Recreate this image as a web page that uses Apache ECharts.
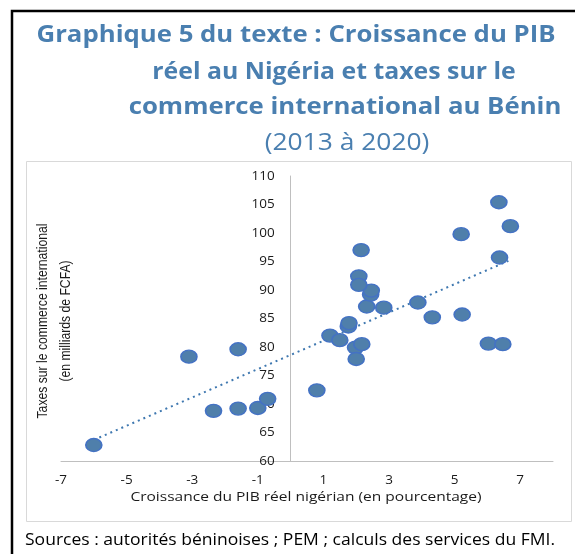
<!DOCTYPE html>
<html>
<head>
<meta charset="utf-8">
<script src="https://cdn.jsdelivr.net/npm/echarts@6/dist/echarts.min.js"></script>
<style>
  html, body { margin: 0; padding: 0; background: #fff; }
  #chart { width: 575px; height: 554px; }
</style>
</head>
<body>
<div id="chart"></div>
<script>
// Croissance du PIB réel nigérian (%) vs taxes sur le commerce international du Bénin (mds FCFA)
const gdpGrowth = [-6.0, -3.1, -1.6, -2.35, -1.6, -1.0, -0.7, 0.8, 1.2, 1.5, 1.76, 1.78, 1.98, 2.0, 2.17, 2.32,
                   2.44, 2.46, 2.84, 3.88, 4.32, 5.23, 5.2, 6.03, 6.47, 6.37, 6.7, 6.35, 2.15, 2.08, 2.08];
const tradeTaxes = [62.8, 78.3, 79.6, 68.8, 69.2, 69.3, 70.9, 72.4, 82.0, 81.2, 83.6, 84.2, 79.9, 77.9, 80.5, 87.1,
                    89.2, 89.9, 86.9, 87.8, 85.2, 85.7, 99.8, 80.6, 80.5, 95.7, 101.2, 105.4, 97.0, 92.4, 90.9];
// Linear trend line end points
const trendX = [-6.0, 6.64];
const trendY = [63.7, 95.1];

const titleLines = [
  'Graphique 5 du texte : Croissance du PIB',
  'réel au Nigéria et taxes sur le',
  'commerce international au Bénin'
];
const subtitle = '(2013 à 2020)';
const yTitleLines = ['Taxes sur le commerce international', '(en milliards de FCFA)'];
const xTitle = 'Croissance du PIB réel nigérian (en pourcentage)';
const sourceNote = 'Sources : autorités béninoises ; PEM ; calculs des services du FMI.';

const points = gdpGrowth.map((x, i) => [x, tradeTaxes[i]]);
const trend = trendX.map((x, i) => [x, trendY[i]]);

const blue = '#4a7fb0';
const labelFont = '"Open Sans", sans-serif';
const titleFont = 'bold 23px "Open Sans", sans-serif';
const yTitleFont = '14.5px "Liberation Sans", Arial, sans-serif';

// grid geometry: x from -7 to 8, the vertical axis sits at x = 0
const gridLeft = 61, gridRight = 22;
const xMin = -7, xMax = 8;
const plotWidth = 575 - gridLeft - gridRight;
const yAxisShift = plotWidth * (0 - xMin) / (xMax - xMin);

function titleText(text, x, y, font, sx) {
  return { type: 'text', x, y, scaleX: sx,
    style: { text, fill: blue, font, textAlign: 'center', textVerticalAlign: 'middle' } };
}

function verticalText(text, x, y) {
  return { type: 'text', x, y, rotation: Math.PI / 2, scaleX: 0.84,
    style: { text, fill: '#1a1a1a', font: yTitleFont, textAlign: 'center', textVerticalAlign: 'middle' } };
}

const chart = echarts.init(document.getElementById('chart'), null, { renderer: 'canvas' });
chart.setOption({
  animation: false,
  backgroundColor: '#fff',
  grid: { left: gridLeft, right: gridRight, top: 176, bottom: 93, containLabel: false },
  xAxis: {
    type: 'value', min: xMin, max: xMax, interval: 2,
    axisLine: { onZero: false, lineStyle: { color: '#bfbfbf', width: 1 } },
    axisTick: { show: false },
    splitLine: { show: false },
    axisLabel: { showMaxLabel: false, margin: 12, color: '#1a1a1a', fontSize: 13.5, fontFamily: labelFont }
  },
  yAxis: {
    type: 'value', min: 60, max: 110, interval: 5,
    offset: -yAxisShift,
    axisLine: { show: true, onZero: false, lineStyle: { color: '#bfbfbf', width: 1 } },
    axisTick: { show: false },
    splitLine: { show: false },
    axisLabel: { margin: 16, color: '#1a1a1a', fontSize: 13.5, fontFamily: labelFont }
  },
  series: [
    {
      type: 'line', data: trend, symbol: 'none', silent: true, z: 3,
      lineStyle: { color: '#3f78b0', width: 2, type: [2, 4] }
    },
    {
      type: 'scatter', data: points, z: 4,
      symbol: 'path://M0 50 A50 50 0 1 1 100 50 A50 50 0 1 1 0 50 Z',
      symbolSize: [16, 13],
      itemStyle: { color: '#4f7fab', borderColor: '#4472c4', borderWidth: 1.5, opacity: 1 }
    }
  ],
  graphic: [
    { type: 'polyline', z: 10, shape: { points: [[12, 556], [12, 11], [577, 11]] },
      style: { stroke: '#000', lineWidth: 2.5, fill: null } },
    { type: 'rect', z: -1, shape: { x: 26.5, y: 161.5, width: 545, height: 360 },
      style: { stroke: '#d9d9d9', lineWidth: 1, fill: null } },
    titleText(titleLines[0], 296, 35, titleFont, 1.12),
    titleText(titleLines[1], 334, 72, titleFont, 1.08),
    titleText(titleLines[2], 345, 107, titleFont, 1.12),
    titleText(subtitle, 347, 143, '24px "Open Sans", sans-serif', 1.1),
    verticalText(yTitleLines[0], 43, 321),
    verticalText(yTitleLines[1], 66, 321),
    { type: 'text', x: 306, y: 497, scaleX: 1.15, style: { text: xTitle, fill: '#1a1a1a', font: '13.5px "Open Sans", sans-serif', textAlign: 'center', textVerticalAlign: 'middle' } },
    { type: 'text', x: 25, y: 540, scaleX: 1.095, style: { text: sourceNote, fill: '#000', font: '16px "Open Sans", sans-serif', textAlign: 'left', textVerticalAlign: 'middle' } }
  ]
});
</script>
</body>
</html>
